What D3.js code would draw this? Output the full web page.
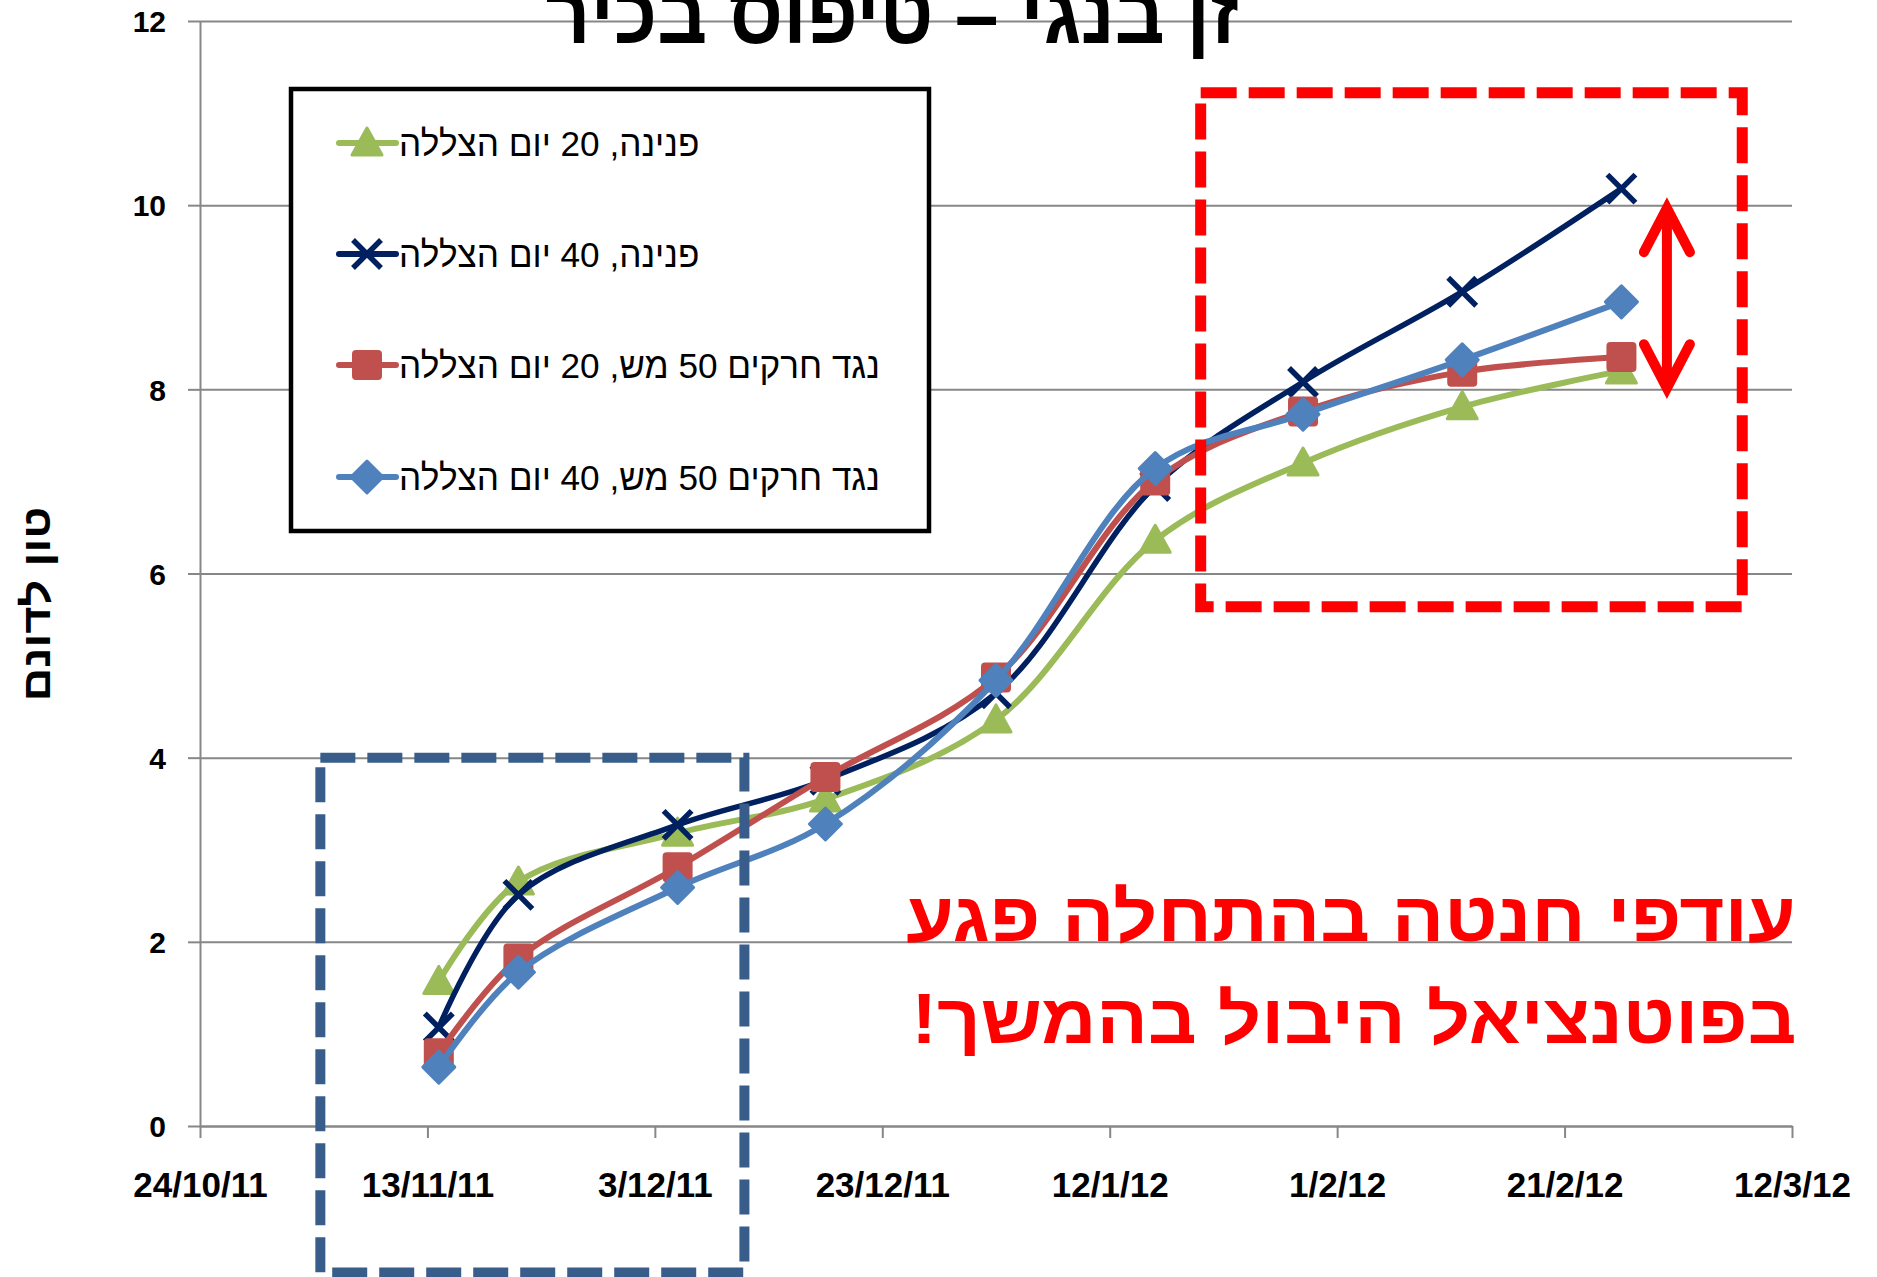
<!DOCTYPE html>
<html lang="he">
<head>
<meta charset="utf-8">
<script src="https://cdn.jsdelivr.net/npm/d3@7"></script>
<style>
  html, body { margin: 0; padding: 0; background: #ffffff; }
  svg { display: block; }
  text { font-family: "Liberation Sans", Arial, sans-serif; }
</style>
</head>
<body>
<svg id="chart" width="1877" height="1277"></svg>
<script>
// ---------------- data ----------------
const sampleDates = ["2011-11-14","2011-11-21","2011-12-05","2011-12-18","2012-01-02","2012-01-16","2012-01-29","2012-02-12","2012-02-26"];
const pnina20   = [1.57, 2.65, 3.18, 3.55, 4.41, 6.36, 7.20, 7.81, 8.20];
const pnina40   = [1.07, 2.51, 3.27, 3.76, 4.70, 6.95, 8.08, 9.06, 10.18];
const neged20   = [0.79, 1.82, 2.81, 3.79, 4.87, 7.01, 7.76, 8.19, 8.35];
const neged40   = [0.64, 1.67, 2.59, 3.28, 4.84, 7.14, 7.73, 8.32, 8.95];
const seriesNames = ["פנינה, 20 יום הצללה", "פנינה, 40 יום הצללה", "נגד חרקים 50 מש, 20 יום הצללה", "נגד חרקים 50 מש, 40 יום הצללה"];
const xTickDates  = ["2011-10-24","2011-11-13","2011-12-03","2011-12-23","2012-01-12","2012-02-01","2012-02-21","2012-03-12"];
const xTickLabels = ["24/10/11","13/11/11","3/12/11","23/12/11","12/1/12","1/2/12","21/2/12","12/3/12"];
const yTicks = [0, 2, 4, 6, 8, 10, 12];
const titleText = "זן בנגי – טיפוס בכיר";
const yLabelText = "טון לדונם";
const noteLines = ["עודפי חנטה בהתחלה פגע", "בפוטנציאל היבול בהמשך!"];
// highlighted ranges (data space)
const earlyBox = {from: "2011-11-03T14:00:00Z", to: "2011-12-10T21:00:00Z", top: 4.0, bottom: -1.59};
const lateBox  = {from: "2012-01-20T00:00:00Z", to: "2012-03-07T15:00:00Z", top: 11.22, bottom: 5.64};
const gapArrow = {date: "2012-03-01T00:00:00Z", low: 7.98, high: 10.0};

// ---------------- setup ----------------
const parse = d => new Date(d + "T00:00:00Z");
const svg = d3.select("#chart");
const FONT = '"Liberation Sans", Arial, sans-serif';

const x = d3.scaleUtc().domain([parse(xTickDates[0]), parse(xTickDates[xTickDates.length-1])]).range([200, 1792]);
const y = d3.scaleLinear().domain([0, 12]).range([1126, 21]);

const colors = ["#9BBB59", "#002060", "#C0504D", "#4F81BD"];
const values = [pnina20, pnina40, neged20, neged40];
const markers = ["triangle", "x", "square", "diamond"];

// gridlines
svg.append("g")
  .attr("transform", "translate(200,0)")
  .call(d3.axisLeft(y).tickValues(yTicks.filter(v => v > 0)).tickSize(-(1792 - 200)).tickFormat(""))
  .call(g => g.select(".domain").remove())
  .call(g => g.selectAll("line").attr("stroke", "#878787").attr("stroke-width", 2));

// y axis
svg.append("g")
  .attr("transform", "translate(200,0)")
  .call(d3.axisLeft(y).tickValues(yTicks).tickSize(12).tickSizeOuter(0).tickPadding(22))
  .call(g => g.select(".domain").attr("stroke", "#878787").attr("stroke-width", 2))
  .call(g => g.selectAll("line").attr("stroke", "#878787").attr("stroke-width", 2))
  .call(g => g.selectAll("text").attr("font-family", FONT).attr("font-weight", "bold")
      .attr("font-size", 30).attr("fill", "#000").attr("dy", "0.36em"));

// x axis
svg.append("g")
  .attr("transform", "translate(0,1126)")
  .call(d3.axisBottom(x).tickValues(xTickDates.map(parse)).tickFormat((d, i) => xTickLabels[i]).tickSize(12).tickSizeOuter(0))
  .call(g => g.select(".domain").attr("stroke", "#878787").attr("stroke-width", 2.5))
  .call(g => g.selectAll("line").attr("stroke", "#878787").attr("stroke-width", 2))
  .call(g => g.selectAll("text").attr("font-family", FONT).attr("font-weight", "bold")
      .attr("font-size", 35).attr("fill", "#000").attr("y", 71).attr("dy", 0));

// ---------------- series ----------------
const line = d3.line().x(d => x(d.date)).y(d => y(d.v)).curve(d3.curveCatmullRom.alpha(0.5));

function drawMarker(g, type, color) {
  if (type === "triangle") {
    g.append("path").attr("d", "M0,-15 L15,12 L-15,12 Z").attr("fill", color)
      .attr("stroke", color).attr("stroke-width", 3).attr("stroke-linejoin", "round");
  } else if (type === "square") {
    g.append("rect").attr("x", -14).attr("y", -14).attr("width", 28).attr("height", 28).attr("rx", 3)
      .attr("fill", color).attr("stroke", color).attr("stroke-width", 2);
  } else if (type === "diamond") {
    g.append("path").attr("d", "M0,-16 L16,0 L0,16 L-16,0 Z").attr("fill", color)
      .attr("stroke", color).attr("stroke-width", 3).attr("stroke-linejoin", "round");
  } else if (type === "x") {
    g.append("path").attr("d", "M-14,-14 L14,14 M-14,14 L14,-14").attr("fill", "none")
      .attr("stroke", color).attr("stroke-width", 5.5);
  }
}

values.forEach((vals, si) => {
  const pts = vals.map((v, i) => ({date: parse(sampleDates[i]), v}));
  const g = svg.append("g");
  g.append("path").datum(pts).attr("d", line).attr("fill", "none")
    .attr("stroke", colors[si]).attr("stroke-width", si === 1 ? 5.5 : 6).attr("stroke-linejoin", "round");
  pts.forEach(p => {
    const mg = g.append("g").attr("transform", `translate(${x(p.date)},${y(p.v)})`);
    drawMarker(mg, markers[si], colors[si]);
  });
});

// ---------------- highlight boxes ----------------
const bx = d => x(new Date(d));
svg.append("rect")
  .attr("x", bx(earlyBox.from)).attr("y", y(earlyBox.top))
  .attr("width", bx(earlyBox.to) - bx(earlyBox.from))
  .attr("height", y(earlyBox.bottom) - y(earlyBox.top))
  .attr("fill", "none").attr("stroke", "#385D8A").attr("stroke-width", 10).attr("stroke-dasharray", "35,12");

svg.append("rect")
  .attr("x", bx(lateBox.from)).attr("y", y(lateBox.top))
  .attr("width", bx(lateBox.to) - bx(lateBox.from))
  .attr("height", y(lateBox.bottom) - y(lateBox.top))
  .attr("fill", "none").attr("stroke", "#FF0000").attr("stroke-width", 11).attr("stroke-dasharray", "36,12");

// double arrow
const ax = bx(gapArrow.date), aTop = y(gapArrow.high), aBot = y(gapArrow.low);
const arrowG = svg.append("g").attr("stroke", "#FF0000").attr("fill", "none")
  .attr("stroke-width", 10).attr("stroke-linecap", "round").attr("stroke-linejoin", "miter");
arrowG.append("line").attr("x1", ax).attr("x2", ax).attr("y1", aTop + 6).attr("y2", aBot - 6).attr("stroke-linecap", "butt");
arrowG.append("path").attr("d", `M${ax-23},${aTop+47} L${ax},${aTop+3} L${ax+23},${aTop+47}`);
arrowG.append("path").attr("d", `M${ax-23},${aBot-47} L${ax},${aBot-3} L${ax+23},${aBot-47}`);

// ---------------- legend ----------------
const legend = svg.append("g");
legend.append("rect").attr("x", 291).attr("y", 89).attr("width", 638).attr("height", 442)
  .attr("fill", "#fff").attr("stroke", "#000").attr("stroke-width", 4.5);
const rowsY = [143, 254, 365, 477];
const legendTexts = [];
seriesNames.forEach((name, i) => {
  const ry = rowsY[i];
  legend.append("line").attr("x1", 339).attr("x2", 396).attr("y1", ry).attr("y2", ry)
    .attr("stroke", colors[i]).attr("stroke-width", 6).attr("stroke-linecap", "round");
  const mg = legend.append("g").attr("transform", `translate(367,${ry})`);
  drawMarker(mg, markers[i], colors[i]);
  const t = legend.append("text").text(name).attr("direction", "rtl")
    .attr("font-family", FONT).attr("font-size", 36).attr("fill", "#000").attr("text-anchor", "middle");
  legendTexts.push({t, ry});
});
const lk = 481 / legendTexts[2].t.node().getComputedTextLength();
legendTexts.forEach(({t, ry}) => {
  const w = t.node().getComputedTextLength() * lk;
  t.attr("transform", `translate(${399 + w / 2},${ry + 13}) scale(${lk},1)`);
});

// ---------------- texts ----------------
function fitText(str, cx, baseline, width, size, color) {
  const t = svg.append("text").text(str).attr("direction", "rtl")
    .attr("font-family", FONT).attr("font-weight", "bold").attr("font-size", size)
    .attr("fill", color).attr("text-anchor", "middle");
  const nat = t.node().getComputedTextLength();
  const k = width / nat;
  t.attr("transform", `translate(${cx},${baseline}) scale(${k},1)`);
  return t;
}
fitText(titleText, 892, 43, 693, 84, "#000");
fitText(noteLines[0], 1351, 941, 890, 70, "#FF0000");
fitText(noteLines[1], 1354, 1043, 885, 70, "#FF0000");
// y-axis title, rotated
(function () {
  const t = svg.append("text").text(yLabelText).attr("direction", "rtl")
    .attr("font-family", FONT).attr("font-weight", "bold").attr("font-size", 40)
    .attr("fill", "#000").attr("text-anchor", "middle");
  const k = 195 / t.node().getComputedTextLength();
  t.attr("transform", `translate(50,604) rotate(-90) scale(${k},1)`);
})();
</script>
</body>
</html>
